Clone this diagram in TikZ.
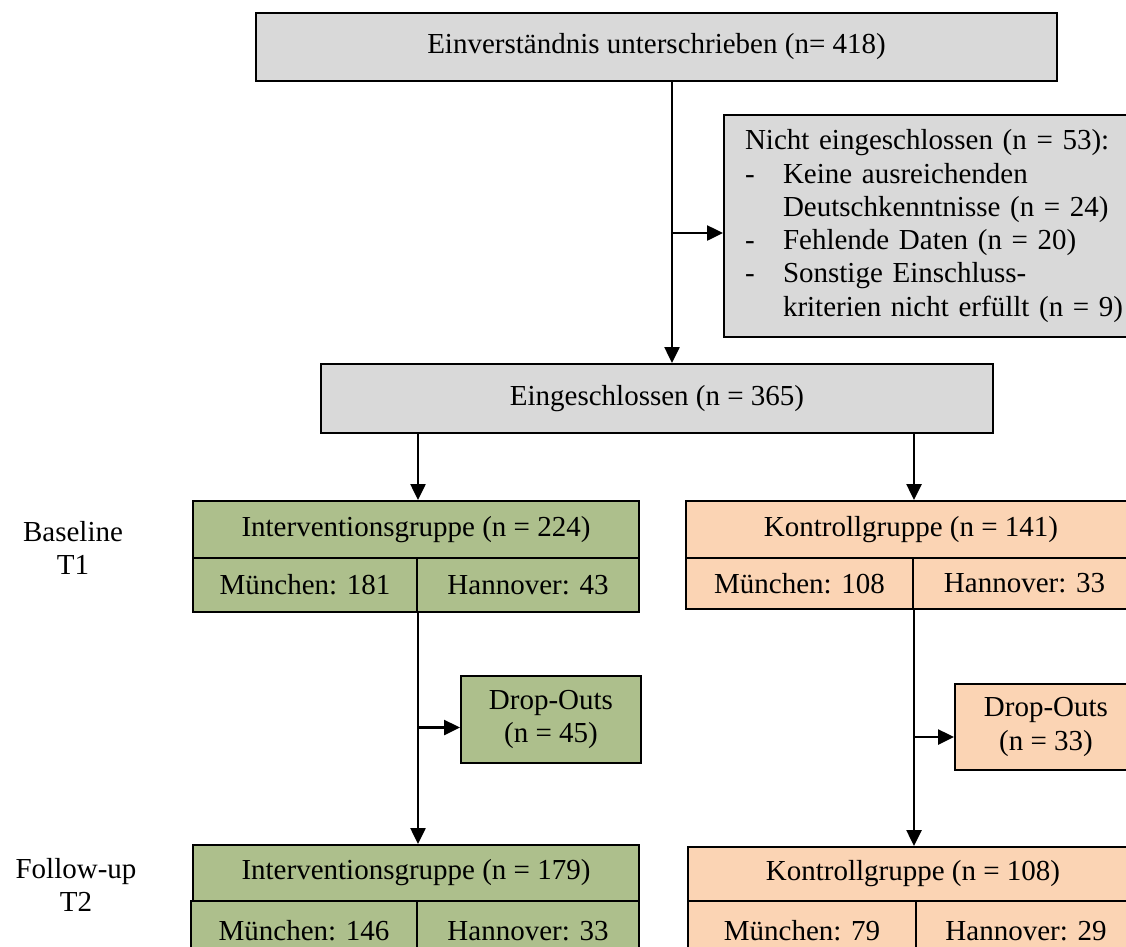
\documentclass[tikz,border=0pt]{standalone}
\usepackage{fontspec}
\setmainfont{Liberation Serif}
\usetikzlibrary{arrows.meta,calc}
\definecolor{boxgray}{HTML}{D9D9D9}
\definecolor{boxgreen}{HTML}{ADBF8C}
\definecolor{boxorange}{HTML}{FBD4B4}
\begin{document}
\begin{tikzpicture}[x=1pt,y=-1pt,
  every node/.style={font=\fontsize{29}{33.3}\selectfont},
  cell/.style={draw=black,line width=2pt,rectangle,inner sep=0pt,anchor=north west},
  gray cell/.style={cell,fill=boxgray},
  green cell/.style={cell,fill=boxgreen},
  orange cell/.style={cell,fill=boxorange},
  arr/.style={line width=2.5pt,-{Triangle[length=16pt,width=15pt]}},
  lbl/.style={align=center,inner sep=0pt}]
\useasboundingbox (0,0) rectangle (1126,946);
\clip (0,0) rectangle (1126,946);
% top
\node[gray cell,minimum width=801pt,minimum height=68pt] (top) at (255,12) {Einverständnis unterschrieben (n= 418)};
\node[gray cell,minimum width=420pt,minimum height=222pt,align=left,text width=380pt,inner xsep=21pt] (nicht) at (723,114)
 {Nicht eingeschlossen (n = 53):\\
  \makebox[38pt][l]{-}Keine ausreichenden\\
  \hspace*{38pt}Deutschkenntnisse (n = 24)\\
  \makebox[38pt][l]{-}Fehlende Daten (n = 20)\\
  \makebox[38pt][l]{-}Sonstige Einschluss-\\
  \hspace*{38pt}kriterien nicht erfüllt (n = 9)};
\node[gray cell,minimum width=672pt,minimum height=69pt] (ein) at (320,363) {Eingeschlossen (n = 365)};
% baseline groups
\node[green cell,minimum width=446pt,minimum height=57pt] (gT) at (192,500) {Interventionsgruppe (n = 224)};
\node[green cell,minimum width=224pt,minimum height=54pt] (gM) at (192,557) {München: 181};
\node[green cell,minimum width=222pt,minimum height=54pt] (gH) at (416,557) {Hannover: 43};
\node[orange cell,minimum width=450pt,minimum height=57pt] (oT) at (685,500) {Kontrollgruppe (n = 141)};
\node[orange cell,minimum width=227pt,minimum height=51pt] (oM) at (685,557) {München: 108};
\node[orange cell,minimum width=223pt,minimum height=51pt] (oH) at (912,557) {Hannover: 33};
% dropouts
\node[green cell,minimum width=180pt,minimum height=87pt,align=center] (gD) at (460,675) {Drop-Outs\\(n = 45)};
\node[orange cell,minimum width=182pt,minimum height=86pt,align=center] (oD) at (954,683) {Drop-Outs\\(n = 33)};
% follow-up groups
\node[green cell,minimum width=446pt,minimum height=56pt] (bgT) at (192,844) {Interventionsgruppe (n = 179)};
\node[green cell,minimum width=226pt,minimum height=60pt] (bgM) at (190,900) {München: 146};
\node[green cell,minimum width=222pt,minimum height=60pt] (bgH) at (416,900) {Hannover: 33};
\node[orange cell,minimum width=450pt,minimum height=54pt] (boT) at (687,846) {Kontrollgruppe (n = 108)};
\node[orange cell,minimum width=228pt,minimum height=60pt] (boM) at (687,900) {München: 79};
\node[orange cell,minimum width=220pt,minimum height=60pt] (boH) at (915,900) {Hannover: 29};
% side labels
\node[lbl] (base) at (73,548) {Baseline\\T1};
\node[lbl] (foll) at (76,885) {Follow-up\\T2};
% connectors
\coordinate (spine) at (672,233);
\coordinate (gDin) at ([yshift=-8pt]gD.west);
\coordinate (oDin) at ([yshift=-10pt]oD.west);
\draw[arr] (spine |- top.south) -- (spine |- ein.north);
\draw[arr] (spine) -- (spine -| nicht.west);
\draw[arr] (ein.south -| gM.east) -- (gM.east |- gT.north);
\draw[arr] (ein.south -| oM.east) -- (oM.east |- oT.north);
\draw[arr] (gM.south east) -- (gM.south east |- bgT.north);
\draw[arr] (gM.east |- gDin) -- (gDin);
\draw[arr] (oM.south east) -- (oM.south east |- boT.north);
\draw[arr] (oM.east |- oDin) -- (oDin);
\end{tikzpicture}
\end{document}
